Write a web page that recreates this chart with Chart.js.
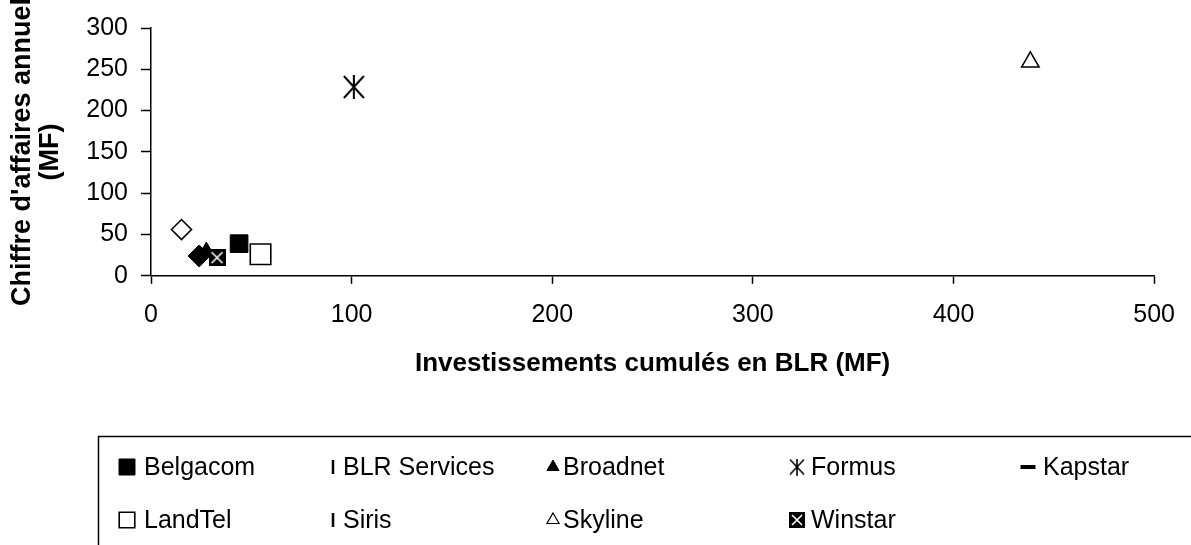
<!DOCTYPE html>
<html><head><meta charset="utf-8">
<script src="https://cdn.jsdelivr.net/npm/chart.js@4.4.1/dist/chart.umd.min.js"></script>
<style>html,body{margin:0;padding:0;background:#fff;}#wrap{width:1191px;height:545px;}</style>
</head><body><div id="wrap"><canvas id="c" width="1191" height="545"></canvas></div>
<script>
// ---- data ----
const companies = ['Belgacom', 'BLR Services', 'Broadnet', 'Formus', 'Kapstar', 'LandTel', 'Siris', 'Skyline', 'Winstar'];
const investissements = [43.9, null, 27.6, 101.1, null, 54.6, null, 438.3, 32.9];   // MF
const chiffreAffaires = [38.9, null, 30, 228.6, null, 26.1, null, 258.9, 22];        // MF
const autresInvest = [15.2, 24];   // series whose legend entries are cut off
const autresCA = [56, 24];
const xTickValues = [0, 100, 200, 300, 400, 500];
const yTickValues = [0, 50, 100, 150, 200, 250, 300];

// ---- custom marker images ----
function asterisk(w, h, lw) {
  const c = document.createElement('canvas'); c.width = w; c.height = h;
  const g = c.getContext('2d'); g.strokeStyle = '#000'; g.lineWidth = lw;
  g.beginPath();
  g.moveTo(w / 2, 0); g.lineTo(w / 2, h);
  g.moveTo(1, 1); g.lineTo(w - 1, h - 1);
  g.moveTo(w - 1, 1); g.lineTo(1, h - 1);
  g.stroke(); return c;
}
function boxX(s) {
  const c = document.createElement('canvas'); c.width = s; c.height = s;
  const g = c.getContext('2d'); g.fillStyle = '#000'; g.fillRect(0, 0, s, s);
  g.strokeStyle = '#fff'; g.lineWidth = 1.6;
  g.beginPath(); g.moveTo(3, 3); g.lineTo(s - 3, s - 3); g.moveTo(s - 3, 3); g.lineTo(3, s - 3); g.stroke();
  return c;
}
const formusImg = asterisk(22, 24, 2), formusLeg = asterisk(16, 17, 1.6);
const winstarImg = boxX(17), winstarLeg = boxX(16);

// per-company marker styles (plot / legend)
const styles = [
  {ps: 'rect', r: 12.5, bg: '#000', bw: 1, lr: 11.3},
  {ps: 'line', r: 7, bg: '#000', bw: 2.5, rot: 90, lr: 7, lbw: 2.5},
  {ps: 'triangle', r: 9, bg: '#000', bw: 1, lr: 7},
  {ps: formusImg, r: 11, bg: '#000', bw: 1, lp: formusLeg},
  {ps: 'line', r: 7, bg: '#000', bw: 4, lr: 7.5, lbw: 4},
  {ps: 'rect', r: 14.5, bg: '#fff', bw: 1.6, lr: 11},
  {ps: 'line', r: 7, bg: '#000', bw: 2.5, rot: 90, lr: 7, lbw: 2.5},
  {ps: 'triangle', r: 10, bg: '#fff', bw: 1.6, lr: 7, lbw: 1.2},
  {ps: winstarImg, r: 9, bg: '#000', bw: 1, lp: winstarLeg}
];

const datasets = companies.map((name, i) => {
  const s = styles[i];
  const pts = investissements[i] === null ? [] : [{x: investissements[i], y: chiffreAffaires[i]}];
  return {
    label: name, data: pts, showLine: false,
    pointStyle: s.ps, pointRadius: s.r, pointHoverRadius: s.r,
    pointRotation: s.rot || 0,
    pointBackgroundColor: s.bg, pointBorderColor: '#000', pointBorderWidth: s.bw,
    order: name === 'Winstar' ? 0 : 1,
    legendStyle: {ps: s.lp || s.ps, r: s.lr || s.r, bw: s.lbw || s.bw, bg: s.bg, rot: s.rot || 0}
  };
});
datasets.push({
  label: 'Série 10', data: [{x: autresInvest[0], y: autresCA[0]}], showLine: false,
  pointStyle: 'rectRot', pointRadius: 10, pointBackgroundColor: '#fff', pointBorderColor: '#000', pointBorderWidth: 1.6,
  order: 1, hideLegend: true
});
datasets.push({
  label: 'Série 11', data: [{x: autresInvest[1], y: autresCA[1]}], showLine: false,
  pointStyle: 'rectRot', pointRadius: 11, pointBackgroundColor: '#000', pointBorderColor: '#000', pointBorderWidth: 1,
  order: 1, hideLegend: true
});

// ---- legend laid out like the original grid ----
const legendPlugin = {
  id: 'gridLegend',
  afterDraw(chart) {
    const ctx = chart.ctx;
    const markerX = [127, 333, 553, 797, 1028];
    const textX = [144, 343, 563, 811, 1043];
    const rowY = [467, 520];
    ctx.save();
    ctx.strokeStyle = '#000'; ctx.lineWidth = 1.5;
    ctx.strokeRect(98.5, 436.5, 1200, 200);
    ctx.font = '25px "Liberation Sans", Arial, sans-serif';
    ctx.textBaseline = 'middle'; ctx.textAlign = 'left'; ctx.fillStyle = '#000';
    let k = 0;
    chart.data.datasets.forEach(ds => {
      if (ds.hideLegend) return;
      const row = Math.floor(k / 5), col = k % 5;
      const y = rowY[row];
      const ls = ds.legendStyle;
      ctx.save();
      ctx.fillStyle = ls.bg; ctx.strokeStyle = '#000'; ctx.lineWidth = ls.bw;
      Chart.helpers.drawPoint(ctx, {pointStyle: ls.ps, radius: ls.r, rotation: ls.rot, borderWidth: ls.bw}, markerX[col], y);
      ctx.restore();
      ctx.fillStyle = '#000';
      ctx.fillText(ds.label, textX[col], y + 1);
      k++;
    });
    ctx.restore();
  }
};

Chart.defaults.font.family = '"Liberation Sans", Arial, sans-serif';
Chart.defaults.color = '#000';

new Chart(document.getElementById('c'), {
  type: 'scatter',
  data: {datasets},
  options: {
    responsive: false, animation: false, devicePixelRatio: 1,
    layout: {padding: {top: 23, right: 31, bottom: 166, left: 0}},
    plugins: {legend: {display: false}, tooltip: {enabled: false}},
    scales: {
      x: {
        type: 'linear', min: 0, max: 500,
        afterBuildTicks: s => { s.ticks = xTickValues.map(v => ({value: v})); },
        ticks: {font: {size: 25}, color: '#000', padding: 16},
        grid: {drawOnChartArea: false, drawTicks: true, tickLength: 8, color: '#000', tickWidth: 1.5},
        border: {display: true, color: '#000', width: 1.5},
        title: {display: true, text: 'Investissements cumulés en BLR (MF)', font: {size: 26, weight: 'bold'}, color: '#000', padding: {top: 2, bottom: 0}}
      },
      y: {
        type: 'linear', min: 0, max: 300,
        afterBuildTicks: s => { s.ticks = yTickValues.map(v => ({value: v})); },
        afterFit: s => { s.width = 151; },
        ticks: {font: {size: 25}, color: '#000', padding: 13},
        grid: {drawOnChartArea: false, drawTicks: true, tickLength: 10, color: '#000', tickWidth: 1.5},
        border: {display: true, color: '#000', width: 1.5},
        title: {display: true, text: ["Chiffre d'affaires annuel", '(MF)'], font: {size: 27, weight: 'bold', lineHeight: 1.05}, color: '#000', padding: {top: 8, bottom: 0}}
      }
    }
  },
  plugins: [legendPlugin]
});
</script>
</body></html>
